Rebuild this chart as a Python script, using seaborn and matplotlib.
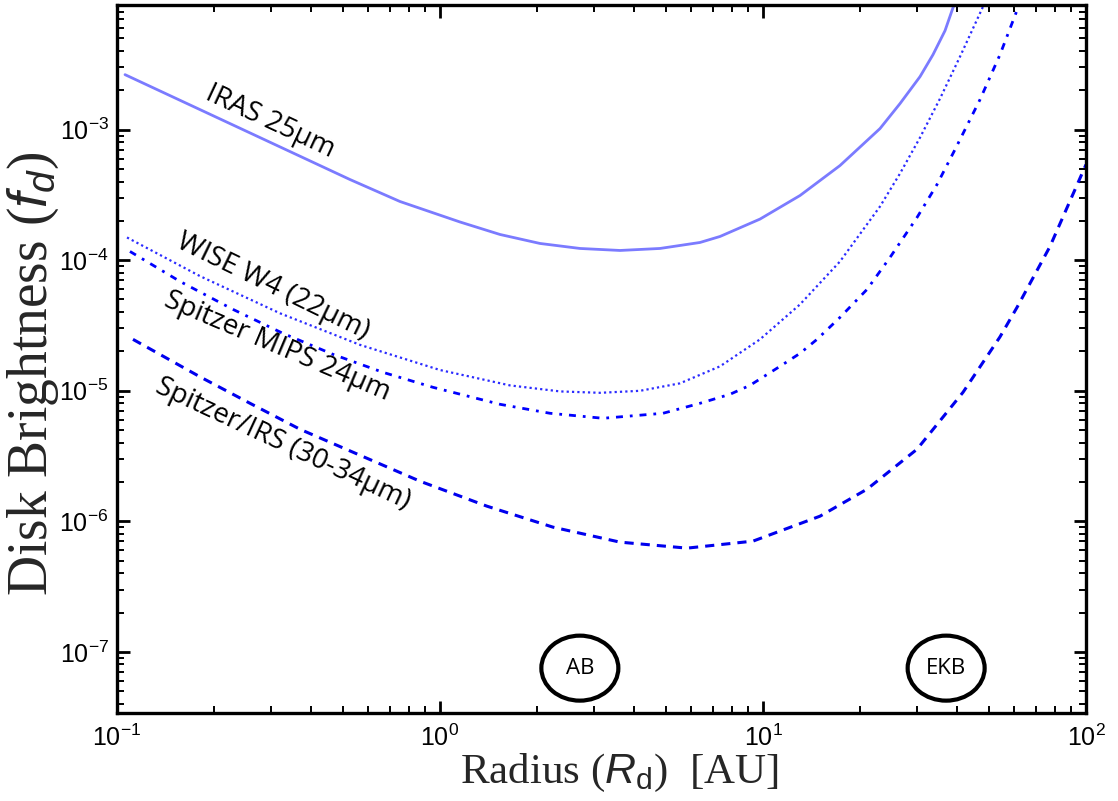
import numpy as np
import pandas as pd
import matplotlib
matplotlib.use("Agg")
import matplotlib.pyplot as plt
import matplotlib.ticker as mticker
from matplotlib.patches import Ellipse
import seaborn as sns

# ---- data, as log10(radius [AU]) and log10(f_d) ----
iras_log_r = [-0.9752, -0.7430, -0.5108, -0.2786, -0.1238, 0.0619, 0.1858, 0.3096, 0.4334, 0.5573,
              0.6811, 0.8050, 0.8669, 0.9907, 1.1146, 1.2384, 1.3622, 1.4241, 1.4861, 1.5263,
              1.5635, 1.5882, 1.6006]
iras_log_f = [-2.5792, -2.8470, -3.1148, -3.3826, -3.5509, -3.7077, -3.8034, -3.8722, -3.9105, -3.9258,
              -3.9105, -3.8646, -3.8187, -3.6855, -3.5050, -3.2754, -2.9923, -2.8011, -2.5945, -2.4262,
              -2.2425, -2.0666, -1.9977]

wise_log_r = [-0.9690, -0.7430, -0.4954, -0.2477, 0.0, 0.2167, 0.3715, 0.4954, 0.6192, 0.7430,
              0.8669, 0.9907, 1.1146, 1.2384, 1.3622, 1.4241, 1.4861, 1.5480, 1.6099, 1.6811, 1.6935]
wise_log_f = [-3.8263, -4.1224, -4.4070, -4.6488, -4.8416, -4.9594, -5.0054, -5.0161, -5.0008, -4.9434,
              -4.8133, -4.6067, -4.3389, -4.0099, -3.5891, -3.3366, -3.0612, -2.7628, -2.4415, -2.0589, -1.9901]

mips_log_r = [-0.9598, -0.8050, -0.6409, -0.4861, -0.3313, -0.1765, -0.0217, 0.1858, 0.3406, 0.5046,
              0.6904, 0.8050, 0.8978, 0.9598, 1.0526, 1.1146, 1.1672, 1.2384, 1.3220, 1.3932,
              1.4768, 1.5387, 1.5944, 1.6718, 1.7337, 1.7895, 1.8019]
mips_log_f = [-3.9334, -4.1630, -4.3772, -4.5608, -4.7215, -4.8592, -4.9740, -5.1041, -5.1729, -5.2112,
              -5.1729, -5.0964, -5.0275, -4.9587, -4.8133, -4.7138, -4.6067, -4.4384, -4.2242, -3.9793,
              -3.6733, -3.4208, -3.1530, -2.7705, -2.4262, -2.0666, -1.9901]

irs_log_r = [-0.9505, -0.7430, -0.5882, -0.4334, -0.2477, -0.0619, 0.1455, 0.3498, 0.5573, 0.7647,
             0.9690, 1.1765, 1.3220, 1.4768, 1.6192, 1.7337, 1.7864, 1.8885, 2.0]
irs_log_f = [-4.6067, -4.8936, -5.0964, -5.2953, -5.4943, -5.6932, -5.8845, -6.0451, -6.1599, -6.2058,
             -6.1522, -5.9610, -5.7544, -5.4484, -5.0122, -4.5876, -4.3619, -3.8952, -3.2678]

curve_labels = ["IRAS 25\u03bcm", "WISE W4 (22\u03bcm)", "Spitzer MIPS 24\u03bcm", "Spitzer/IRS (30-34\u03bcm)"]
label_x = [0.298, 0.304, 0.313, 0.327]
label_y = [1.15e-3, 6.3e-5, 2.19e-5, 3.89e-6]
label_rot = [-25, -26, -23, -25]

zone_names = ["AB", "EKB"]
zone_x = [2.71, 36.9]
zone_y = [7.5e-8, 7.5e-8]

x_ticks = [0.1, 1, 10, 100]
y_ticks = [1e-7, 1e-6, 1e-5, 1e-4, 1e-3]
xlim = (0.1, 100)
ylim = (3.4e-8, 9.0e-3)

# ---- style ----
sns.set_theme(style="white")
plt.rcParams["font.family"] = ["Liberation Sans", "DejaVu Sans"]
plt.rcParams["mathtext.fontset"] = "custom"
plt.rcParams["mathtext.rm"] = "Liberation Sans"
plt.rcParams["mathtext.it"] = "Liberation Sans:italic"
plt.rcParams["mathtext.bf"] = "Liberation Sans:bold"

fig = plt.figure(figsize=(11.18, 8.01), dpi=100)
ax = fig.add_axes([117 / 1118, 1 - 713 / 801, (1086 - 117) / 1118, (713 - 5) / 801])

def frame(lr, lf):
    return pd.DataFrame({"r": 10 ** np.asarray(lr), "f": 10 ** np.asarray(lf)})

sns.lineplot(data=frame(iras_log_r, iras_log_f), x="r", y="f", ax=ax, color="#7b7bff",
             linewidth=2.0, linestyle="-", estimator=None, sort=False)
sns.lineplot(data=frame(wise_log_r, wise_log_f), x="r", y="f", ax=ax, color="#2b2bff",
             linewidth=1.6, linestyle=(0, (1, 1.4)), estimator=None, sort=False)
sns.lineplot(data=frame(mips_log_r, mips_log_f), x="r", y="f", ax=ax, color="#0000ff",
             linewidth=2.0, linestyle=(0, (2.5, 2.5, 1, 2.5)), estimator=None, sort=False)
sns.lineplot(data=frame(irs_log_r, irs_log_f), x="r", y="f", ax=ax, color="#0000ee",
             linewidth=2.2, linestyle=(0, (3, 2.3)), estimator=None, sort=False)
for ln in ax.get_lines():
    ln.set_solid_joinstyle("round")
    ln.set_dash_joinstyle("round")

ax.set_xscale("log")
ax.set_yscale("log")
ax.set_xlim(*xlim)
ax.set_ylim(*ylim)

ax.xaxis.set_major_locator(mticker.FixedLocator(x_ticks))
ax.yaxis.set_major_locator(mticker.FixedLocator(y_ticks))
ax.xaxis.set_minor_locator(mticker.LogLocator(base=10, subs=np.arange(2, 10), numticks=20))
ax.yaxis.set_minor_locator(mticker.LogLocator(base=10, subs=np.arange(2, 10), numticks=20))
ax.xaxis.set_major_formatter(mticker.LogFormatterMathtext())
ax.yaxis.set_major_formatter(mticker.LogFormatterMathtext())
ax.xaxis.set_minor_formatter(mticker.NullFormatter())
ax.yaxis.set_minor_formatter(mticker.NullFormatter())

ax.tick_params(which="both", direction="in", top=True, right=True, bottom=True, left=True, colors="black")
ax.tick_params(which="major", length=9, width=2.0, labelsize=18, pad=6)
ax.tick_params(which="minor", length=5, width=1.4)
ax.tick_params(axis="x", which="major", pad=8)
for s in ax.spines.values():
    s.set_visible(True)
    s.set_color("black")
    s.set_linewidth(2.4)
ax.grid(False)

ax.set_xlabel(r"Radius ($\mathit{R}_\mathrm{d}$)  [AU]", fontsize=31, family=["Liberation Serif"])
ax.set_ylabel(r"Disk Brightness ($\mathit{f_d}$)", fontsize=40, family=["Liberation Serif"])
ax.xaxis.set_label_coords(0.518, -0.0847)
ax.xaxis.label.set_verticalalignment("center")
ax.yaxis.set_label_coords(-0.0867, 0.4802)
ax.yaxis.label.set_verticalalignment("center")
ax.yaxis.label.set_horizontalalignment("center")

for txt, lx, ly, rot in zip(curve_labels, label_x, label_y, label_rot):
    ax.text(lx, ly, txt, rotation=rot, rotation_mode="anchor", ha="center", va="center",
            fontsize=20, family=["Open Sans", "DejaVu Sans"], color="black")

# zone ellipses (fixed size, centred on the zone position)
fig.canvas.draw()
for name, zx, zy in zip(zone_names, zone_x, zone_y):
    cx, cy = ax.transAxes.inverted().transform(ax.transData.transform((zx, zy)))
    ax.add_patch(Ellipse((cx, cy), width=77 / 969, height=65 / 708, transform=ax.transAxes,
                         facecolor="none", edgecolor="black", linewidth=3.0, zorder=5))
    ax.text(zx, zy, name, ha="center", va="center", fontsize=16,
            family=["Open Sans", "DejaVu Sans"], color="black")

fig.savefig("out.png", dpi=100)
